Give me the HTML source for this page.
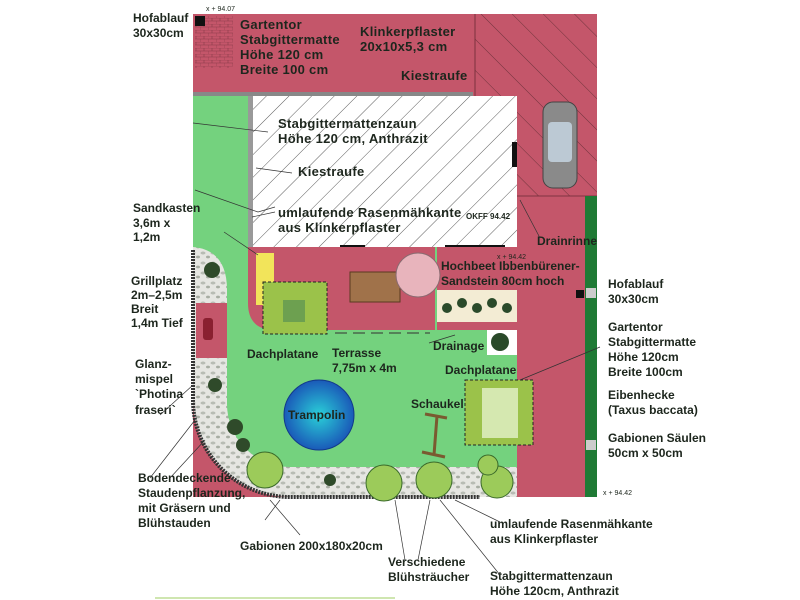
<!DOCTYPE html>
<html><head><meta charset="utf-8"><style>
html,body{margin:0;padding:0;background:#fff;}
svg{display:block;}
text{font-family:"Liberation Sans",sans-serif;font-size:12px;font-weight:bold;fill:#1d261d;}
.big{font-size:13px;letter-spacing:0.3px;}
</style></head><body>
<svg width="800" height="600" viewBox="0 0 800 600" xmlns="http://www.w3.org/2000/svg">
<defs>
<pattern id="hatch" width="16" height="16" patternUnits="userSpaceOnUse" patternTransform="rotate(45)">
<rect width="16" height="16" fill="#fff"/><line x1="0" y1="0" x2="0" y2="16" stroke="#333" stroke-width="0.8"/></pattern>
<pattern id="hatchR" width="22" height="22" patternUnits="userSpaceOnUse" patternTransform="rotate(-45)">
<rect width="22" height="22" fill="#c4566a"/><line x1="0" y1="0" x2="0" y2="22" stroke="#5a2a30" stroke-width="0.8"/></pattern>
<pattern id="grav" width="10" height="10" patternUnits="userSpaceOnUse">
<rect width="10" height="10" fill="#e6e6e2"/><ellipse cx="3" cy="3" rx="2.5" ry="1.5" fill="#b8bcb4"/><ellipse cx="8" cy="7" rx="2" ry="1.4" fill="#a8ada3"/></pattern>
<pattern id="brick" width="8" height="6" patternUnits="userSpaceOnUse">
<rect width="8" height="6" fill="#c4566a"/><path d="M0 0H8M0 3H8M4 0V3M0 3V6" stroke="#8a3a48" stroke-width="0.6"/></pattern>
<radialGradient id="tg"><stop offset="0" stop-color="#2ad0d8"/><stop offset="1" stop-color="#1a5ab8"/></radialGradient>
</defs>
<rect x="193" y="14" width="404" height="483" fill="#c4566a"/>
<rect x="475" y="14" width="122" height="82" fill="url(#hatchR)"/>
<rect x="517" y="96" width="80" height="100" fill="url(#hatchR)"/>
<line x1="475" y1="14" x2="475" y2="96" stroke="#6a2a35" stroke-width="0.8"/>
<line x1="517" y1="196" x2="597" y2="196" stroke="#6a2a35" stroke-width="0.8"/>
<rect x="195" y="16" width="38" height="52" fill="url(#brick)"/>
<rect x="195" y="16" width="10" height="10" fill="#111"/>
<rect x="480" y="455" width="36" height="40" fill="url(#brick)"/>
<rect x="585" y="196" width="12" height="301" fill="#1f7a35"/>
<rect x="586" y="288" width="10" height="10" fill="#ccc"/><rect x="586" y="440" width="10" height="10" fill="#ccc"/>
<rect x="576" y="290" width="8" height="8" fill="#111"/>
<rect x="193" y="96" width="60" height="151" fill="#74d27e"/>
<path d="M193 247 L517 247 L517 470 L290 470 A63 63 0 0 1 227 404 L227 290 Z" fill="#74d27e"/>
<path d="M193 247 Q227 250 227 290 L227 404 A63 63 0 0 0 290 467 L517 467 L517 497 L290 497 A97 97 0 0 1 193 400 Z" fill="url(#grav)"/>
<path d="M193 250 L193 400 A97 97 0 0 0 290 497 L480 497" fill="none" stroke="#333" stroke-width="4" stroke-dasharray="2 1"/>
<rect x="196" y="303" width="31" height="55" fill="#c4566a"/>
<rect x="203" y="318" width="10" height="22" rx="3" fill="#8a2030"/>
<rect x="253" y="96" width="264" height="151" fill="url(#hatch)"/>
<rect x="248" y="96" width="5" height="151" fill="#999"/>
<rect x="193" y="92" width="280" height="4" fill="#888"/>
<rect x="512" y="142" width="5" height="25" fill="#111"/>
<rect x="340" y="245" width="25" height="4" fill="#111"/><rect x="445" y="245" width="60" height="4" fill="#111"/>
<rect x="543" y="102" width="34" height="86" rx="10" fill="#8a8a8a" stroke="#444"/>
<rect x="548" y="122" width="24" height="40" rx="4" fill="#bcc9d4"/>
<path d="M248 247 L435 247 L435 330 L275 330 Q248 330 248 303 Z" fill="#c4566a"/>
<rect x="437" y="247" width="80" height="83" fill="#c4566a"/>
<rect x="256" y="253" width="18" height="52" fill="#f2e45a"/>
<rect x="263" y="282" width="64" height="52" fill="#9bc24a" stroke="#222" stroke-dasharray="3 2"/>
<rect x="283" y="300" width="22" height="22" fill="#6da050"/>
<rect x="350" y="272" width="50" height="30" fill="#a0724a" stroke="#5a3a20"/>
<circle cx="418" cy="275" r="22" fill="#e8b4bc" stroke="#8a6a70"/>
<rect x="437" y="290" width="80" height="32" fill="#f3ecd4"/>
<g fill="#2a4a2a"><circle cx="447" cy="308" r="5"/><circle cx="462" cy="303" r="5"/><circle cx="477" cy="308" r="5"/><circle cx="492" cy="303" r="5"/><circle cx="507" cy="308" r="5"/></g>
<rect x="487" y="330" width="30" height="25" fill="#fff"/>
<circle cx="500" cy="342" r="9" fill="#2a4a2a"/>
<line x1="335" y1="333" x2="430" y2="333" stroke="#333" stroke-dasharray="12 6"/>
<circle cx="319" cy="415" r="35" fill="url(#tg)" stroke="#123a8a"/>
<text x="288" y="419">Trampolin</text>
<path d="M425 414 L447 418 M437 416 L434 455 M422 452 L445 457" stroke="#7a5a30" stroke-width="3"/>
<rect x="465" y="380" width="68" height="65" fill="#9bc24a" stroke="#222" stroke-dasharray="3 2"/>
<rect x="482" y="388" width="36" height="50" fill="#d5e8b0"/>
<g fill="#9ccb5a" stroke="#3a6a2a"><circle cx="265" cy="470" r="18"/><circle cx="384" cy="483" r="18"/><circle cx="434" cy="480" r="18"/><circle cx="497" cy="482" r="16"/><circle cx="488" cy="465" r="10"/></g>
<g fill="#2f4a2a"><circle cx="212" cy="270" r="8"/><circle cx="215" cy="385" r="7"/><circle cx="235" cy="427" r="8"/><circle cx="243" cy="445" r="7"/><circle cx="330" cy="480" r="6"/></g>
<text class="big" x="240" y="29">Gartentor</text><text class="big" x="240" y="44">Stabgittermatte</text><text class="big" x="240" y="59">Höhe 120 cm</text><text class="big" x="240" y="74">Breite 100 cm</text>
<text class="big" x="360" y="36">Klinkerpflaster</text><text class="big" x="360" y="51">20x10x5,3 cm</text>
<text class="big" x="401" y="80">Kiestraufe</text>
<text class="big" x="278" y="128">Stabgittermattenzaun</text><text class="big" x="278" y="143">Höhe 120 cm, Anthrazit</text>
<text class="big" x="298" y="176">Kiestraufe</text>
<text class="big" x="278" y="217">umlaufende Rasenmähkante</text><text class="big" x="278" y="232">aus Klinkerpflaster</text>
<text x="466" y="219" style="font-size:8px">OKFF 94.42</text>
<text x="537" y="245">Drainrinne</text>
<text x="441" y="270">Hochbeet Ibbenbürener-</text><text x="441" y="285">Sandstein 80cm hoch</text>
<text x="247" y="358">Dachplatane</text>
<text x="332" y="357">Terrasse</text><text x="332" y="372">7,75m x 4m</text>
<text x="433" y="350">Drainage</text>
<text x="445" y="374">Dachplatane</text>
<text x="411" y="408">Schaukel</text>
<text x="206" y="11" style="font-size:7px;font-weight:normal">x + 94.07</text>
<text x="497" y="259" style="font-size:7px;font-weight:normal">x + 94.42</text>
<text x="603" y="495" style="font-size:7px;font-weight:normal">x + 94.42</text>
<text x="133" y="22">Hofablauf</text><text x="133" y="37">30x30cm</text>
<text x="133" y="212">Sandkasten</text><text x="133" y="227">3,6m x</text><text x="133" y="241">1,2m</text>
<text x="131" y="285">Grillplatz</text><text x="131" y="299">2m–2,5m</text><text x="131" y="313">Breit</text><text x="131" y="327">1,4m Tief</text>
<text x="135" y="368">Glanz-</text><text x="135" y="383">mispel</text><text x="135" y="398">`Photina</text><text x="135" y="414">fraseri`</text>
<text x="138" y="482">Bodendeckende</text><text x="138" y="497">Staudenpflanzung,</text><text x="138" y="512">mit Gräsern und</text><text x="138" y="527">Blühstauden</text>
<text x="240" y="550">Gabionen 200x180x20cm</text>
<text x="388" y="566">Verschiedene</text><text x="388" y="581">Blühsträucher</text>
<text x="490" y="528">umlaufende Rasenmähkante</text><text x="490" y="543">aus Klinkerpflaster</text>
<text x="490" y="580">Stabgittermattenzaun</text><text x="490" y="595">Höhe 120cm, Anthrazit</text>
<text x="608" y="288">Hofablauf</text><text x="608" y="303">30x30cm</text>
<text x="608" y="331">Gartentor</text><text x="608" y="346">Stabgittermatte</text><text x="608" y="361">Höhe 120cm</text><text x="608" y="376">Breite 100cm</text>
<text x="608" y="399">Eibenhecke</text><text x="608" y="414">(Taxus baccata)</text>
<text x="608" y="442">Gabionen Säulen</text><text x="608" y="457">50cm x 50cm</text>
<g stroke="#333" stroke-width="0.7" fill="none">
<path d="M193 123 L268 132 M195 190 L258 212 L275 207 M252 217 L275 212 M256 168 L292 173 M224 232 L258 255"/>
<path d="M160 415 L193 385 M150 478 L195 420 M170 478 L205 440"/>
<path d="M265 520 L280 500 M300 535 L270 500"/>
<path d="M405 560 L395 500 M418 560 L430 500 M500 522 L455 500 M500 575 L440 500"/>
<path d="M520 380 L600 347 M520 200 L540 238 M429 343 L455 335"/>
</g>
<line x1="155" y1="598" x2="395" y2="598" stroke="#cfe6b0" stroke-width="2"/>
</svg>
</body></html>
